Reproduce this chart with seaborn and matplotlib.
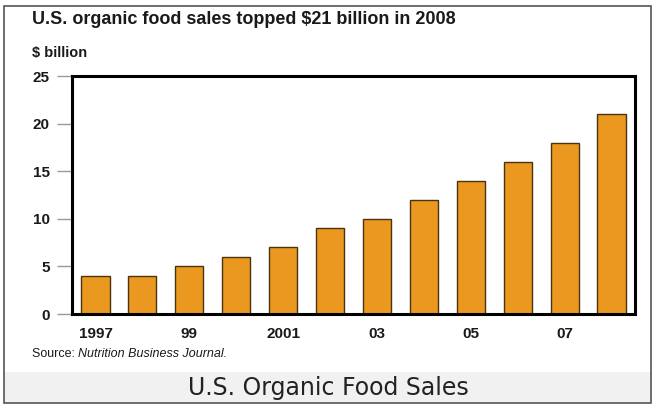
import matplotlib
matplotlib.use("Agg")
import matplotlib.pyplot as plt
import matplotlib.patches as mpatches
import seaborn as sns
import pandas as pd

years = [1997, 1998, 1999, 2000, 2001, 2002, 2003, 2004, 2005, 2006, 2007, 2008]
sales = [4, 4, 5, 6, 7, 9, 10, 12, 14, 16, 18, 21]
year_labels = ["1997", "", "99", "", "2001", "", "03", "", "05", "", "07", ""]
y_ticks = [0, 5, 10, 15, 20, 25]

sns.set_theme(style="white")
plt.rcParams["font.family"] = ["Liberation Sans", "DejaVu Sans"]

df = pd.DataFrame({"year": [str(y) for y in years], "sales": sales})

fig = plt.figure(figsize=(6.57, 4.11), dpi=100)
fig.patch.set_facecolor("white")

# bottom caption band and outer frame
fig.patches.append(mpatches.Rectangle((4 / 657, 1 - 403 / 411), 647 / 657, 31 / 411,
                                      transform=fig.transFigure, facecolor="#f1f1f1",
                                      edgecolor="none", zorder=0))
fig.patches.append(mpatches.Rectangle((4 / 657, 1 - 403 / 411), 647 / 657, 397 / 411,
                                      transform=fig.transFigure, facecolor="none",
                                      edgecolor="#555555", linewidth=1.2, zorder=5))

ax = fig.add_axes([72 / 657, 1 - 314 / 411, 563 / 657, 238 / 411])
sns.barplot(data=df, x="year", y="sales", ax=ax, color="#ea981f", width=0.6,
            edgecolor="#4a3410", linewidth=1.0, saturation=1)

ax.set_xlim(-0.5, len(years) - 0.5)
ax.set_ylim(0, 25)
ax.set_yticks(y_ticks)
ax.set_yticklabels([str(t) for t in y_ticks], fontsize=11, color="#1a1a1a",
                   fontweight="bold")
ax.set_xticks(range(len(years)))
ax.set_xticklabels(year_labels, fontsize=11, color="#1a1a1a", fontweight="bold")
ax.set_xlabel("")
ax.set_ylabel("")
for s in ax.spines.values():
    s.set_visible(True)
    s.set_color("black")
    s.set_linewidth(2.2)
ax.tick_params(axis="y", which="both", left=True, length=11, width=1,
               color="#999999", pad=5)
ax.tick_params(axis="x", bottom=False, pad=3)

fig.text(32 / 657, 1 - 19 / 411, "U.S. organic food sales topped $21 billion in 2008",
         fontsize=13, fontweight="bold", color="#1a1a1a", va="center", ha="left")
fig.text(32 / 657, 1 - 53 / 411, "$ billion", fontsize=10.5, color="#1a1a1a",
         va="center", ha="left", fontweight="bold")
src = fig.text(32 / 657, 1 - 354 / 411, "Source: ", fontsize=9, color="#1a1a1a",
               va="center", ha="left")
fig.canvas.draw()
bb = src.get_window_extent()
fig.text(bb.x1 / fig.bbox.width, 1 - 354 / 411, "Nutrition Business Journal.",
         fontsize=9, style="italic", color="#1a1a1a", va="center", ha="left")
fig.text(0.5, 1 - 388 / 411, "U.S. Organic Food Sales", fontsize=17, color="#222222",
         va="center", ha="center", family=["DejaVu Sans"])

fig.savefig("out.png", dpi=100)
